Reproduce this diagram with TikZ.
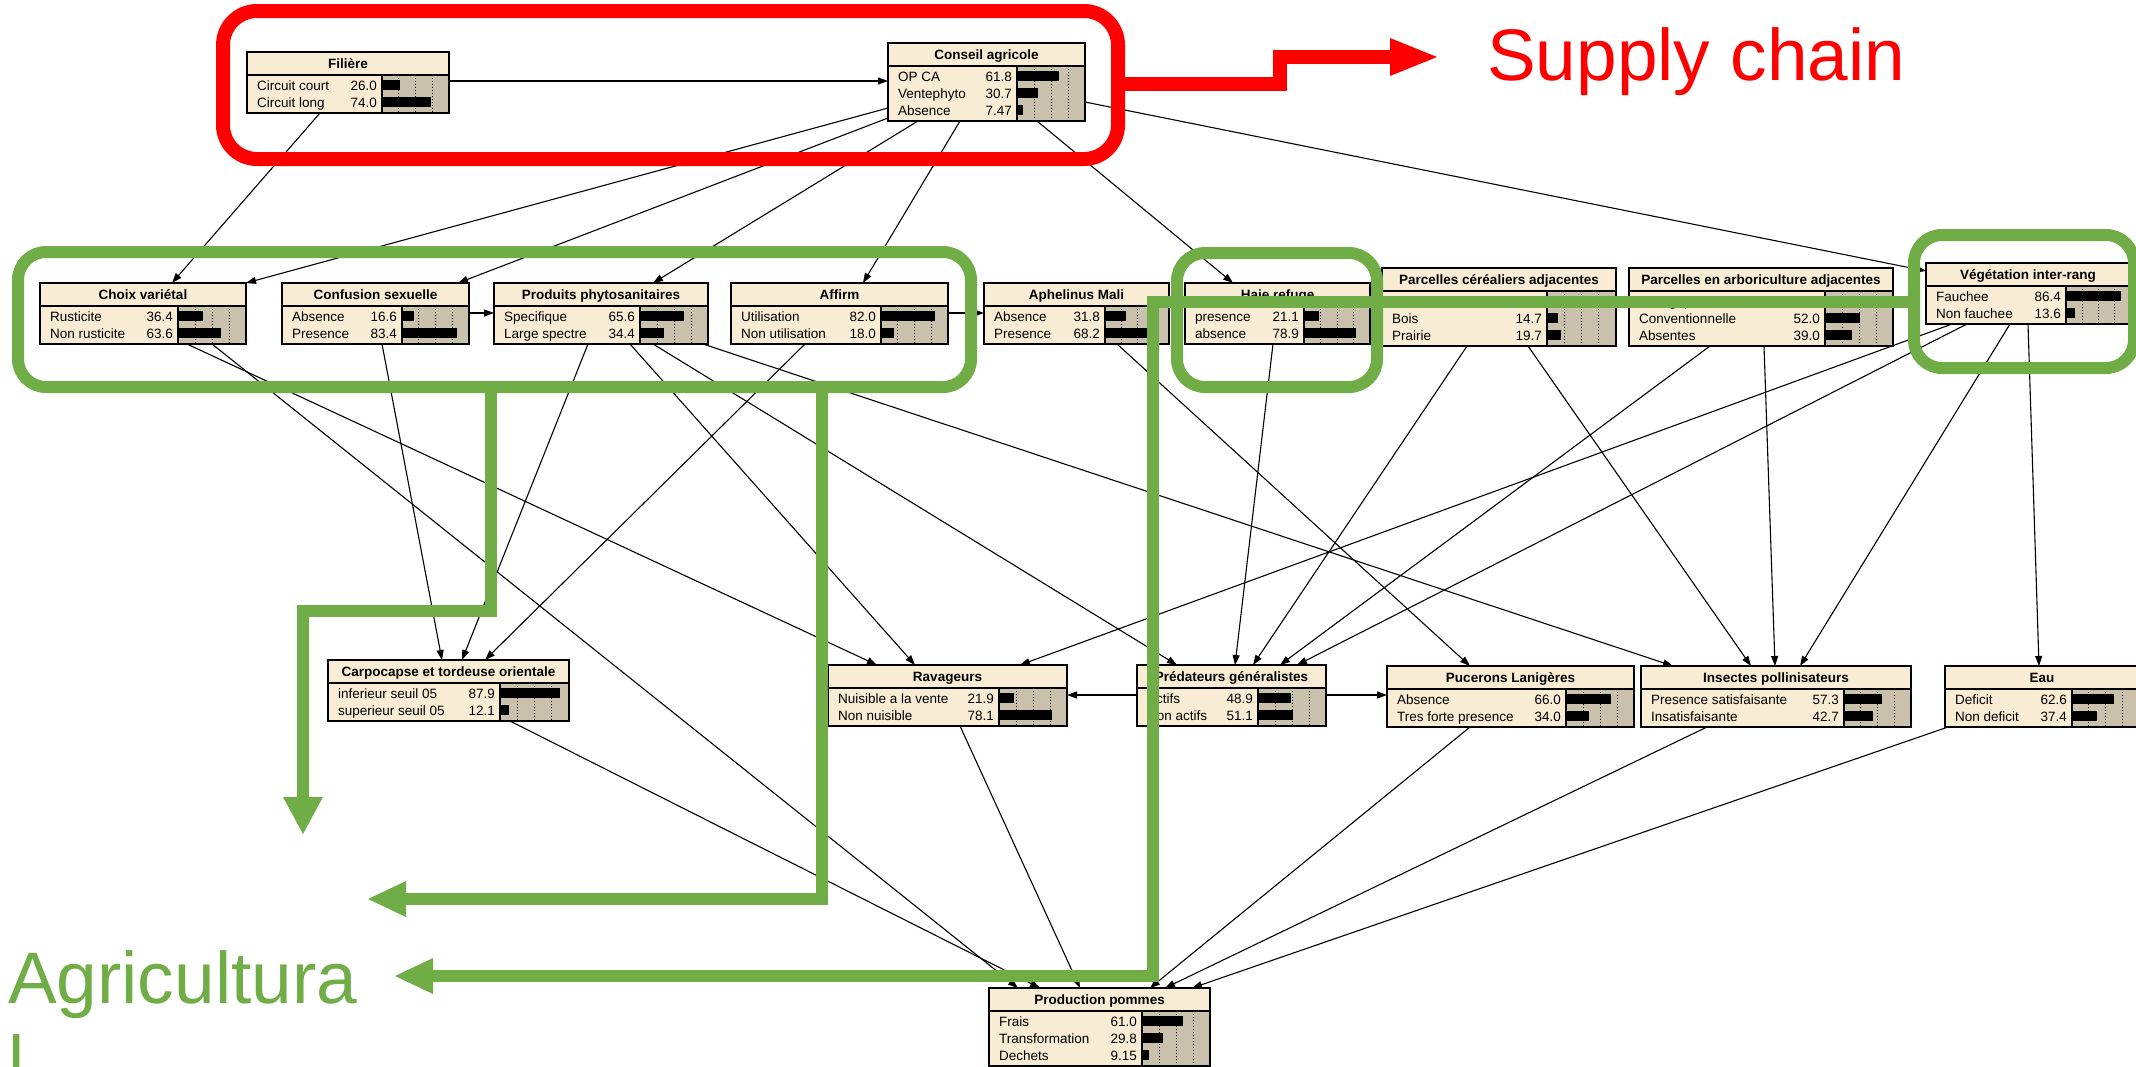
\documentclass[tikz,border=0pt]{standalone}
\usepackage{fontspec}
\setmainfont{Liberation Sans}
\usetikzlibrary{arrows.meta,calc}
\definecolor{cream}{RGB}{248,237,212}
\definecolor{bargray}{RGB}{201,193,171}
\definecolor{agrgreen}{RGB}{112,173,71}
\definecolor{scred}{RGB}{255,0,0}
\pgfdeclarelayer{bg}
\pgfsetlayers{bg,main}
\newcommand\nf{\fontsize{13.5}{15}\selectfont}
\newcommand\bnet[8]{%
  \pgfmathsetmacro\bnTb{#3+23}%
  \pgfmathsetmacro\bnBt{#3+23+17*#7+4}%
  \fill[cream] (#2,#3) rectangle (#4,\bnBt);
  \fill[bargray] (#5,\bnTb) rectangle (#4,\bnBt);
  \foreach \bnff in {0.25,0.5,0.75}{\draw[dotted,line width=1pt] ({#5+\bnff*(#4-#5)},\bnTb) -- ({#5+\bnff*(#4-#5)},\bnBt);}
  \foreach \bnl/\bnv [count=\bni] in {#8}{%
    \pgfmathsetmacro\bnyy{\bnTb+10+17*(\bni-1)}%
    \node[anchor=base west,inner sep=0,font=\nf] at (#2+10,\bnyy+5) {\bnl};
    \node[anchor=base east,inner sep=0,font=\nf] at (#5-5,\bnyy+5) {\bnv};
    \fill ({#5+1},\bnyy-5) rectangle ({#5+1+\bnv*(#4-#5-2)/100},\bnyy+5);
  }
  \draw[line width=1.3pt] (#2,\bnTb) -- (#4,\bnTb) (#5,\bnTb) -- (#5,\bnBt);
  \node[font={\nf\bfseries},inner sep=0,anchor=base] at ({(#2+#4)/2},#3+16.5) {#6};
  \node[draw,line width=1.3pt,inner sep=0,outer sep=0,minimum width={(#4-#2)*1pt},minimum height={(\bnBt-#3)*1pt}] (#1) at ({(#2+#4)/2},{(#3+\bnBt)/2}) {};
}
\tikzset{
  arr/.style={line width=1.1pt,-{Triangle[length=10pt,width=7pt]}},
  gline/.style={draw=agrgreen,line width=12pt,line join=miter},
  rline/.style={draw=scred,line width=14pt,line join=miter},
  bigtxt/.style={font=\fontsize{73}{84}\selectfont,inner sep=0}
}
\begin{document}
\begin{tikzpicture}[x=1pt,y=-1pt]
\useasboundingbox (0,0) rectangle (2136,1066);
\begin{pgfonlayer}{bg}
\fill[white] (0,0) rectangle (2136,1066);
\end{pgfonlayer}
% nodes
\bnet{fil}{247}{52}{449}{382}{Filière}{2}{Circuit court/26.0,Circuit long/74.0}
\bnet{cons}{888}{43}{1085}{1017}{Conseil agricole}{3}{OP CA/61.8,Ventephyto/30.7,Absence/7.47}
\bnet{choix}{40}{283}{246}{178}{Choix variétal}{2}{Rusticite/36.4,Non rusticite/63.6}
\bnet{conf}{282}{283}{469}{402}{Confusion sexuelle}{2}{Absence/16.6,Presence/83.4}
\bnet{prod}{494}{283}{708}{640}{Produits phytosanitaires}{2}{Specifique/65.6,Large spectre/34.4}
\bnet{aff}{731}{283}{948}{881}{Affirm}{2}{Utilisation/82.0,Non utilisation/18.0}
\bnet{aph}{984}{283}{1169}{1105}{Aphelinus Mali}{2}{Absence/31.8,Presence/68.2}
\bnet{haie}{1185}{283}{1370}{1304}{Haie refuge}{2}{presence/21.1,absence/78.9}
\bnet{cer}{1382}{268}{1616}{1547}{Parcelles céréaliers adjacentes}{3}{Grandes cultures/65.6,Bois/14.7,Prairie/19.7}
\bnet{arb}{1629}{268}{1893}{1825}{Parcelles en arboriculture adjacentes}{3}{Biologiques/9.00,Conventionnelle/52.0,Absentes/39.0}
\bnet{veg}{1926}{263}{2130}{2066}{Végétation inter-rang}{2}{Fauchee/86.4,Non fauchee/13.6}
\bnet{carp}{328}{660}{569}{500}{Carpocapse et tordeuse orientale}{2}{inferieur seuil 05/87.9,superieur seuil 05/12.1}
\bnet{rav}{828}{665}{1067}{999}{Ravageurs}{2}{Nuisible a la vente/21.9,Non nuisible/78.1}
\bnet{pred}{1137}{665}{1326}{1258}{Prédateurs généralistes}{2}{Actifs/48.9,Non actifs/51.1}
\bnet{puc}{1387}{666}{1634}{1566}{Pucerons Lanigères}{2}{Absence/66.0,Tres forte presence/34.0}
\bnet{ins}{1641}{666}{1911}{1844}{Insectes pollinisateurs}{2}{Presence satisfaisante/57.3,Insatisfaisante/42.7}
\bnet{eau}{1945}{666}{2139}{2072}{Eau}{2}{Deficit/62.6,Non deficit/37.4}
\bnet{pom}{989}{988}{1210}{1142}{Production pommes}{3}{Frais/61.0,Transformation/29.8,Dechets/9.15}
% connectors
\begin{pgfonlayer}{bg}
\draw[arr] (fil.east |- 0,81) -- (cons.west |- 0,81);
\draw[arr] (320,0 |- fil.south) -- (172,0 |- choix.north);
\draw[arr] (cons.west |- 0,108) -- (choix.north east);
\draw[arr] (cons.west |- 0,118) -- (458,0 |- conf.north);
\draw[arr] (918,0 |- cons.south) -- (653,0 |- prod.north);
\draw[arr] (960,0 |- cons.south) -- (863,0 |- aff.north);
\draw[arr] (1037,0 |- cons.south) -- (1233,0 |- haie.north);
\draw[arr] (cons.east |- 0,102) -- (veg.west |- 0,271);
\draw[arr] (conf.east |- 0,313) -- (prod.west |- 0,313);
\draw[arr] (aff.east |- 0,313) -- (aph.west |- 0,313);
\draw[arr] (187,0 |- choix.south) -- (877,0 |- rav.north);
\draw[arr] (212,0 |- choix.south) -- (1018,0 |- pom.north);
\draw[arr] (382,0 |- conf.south) -- (442,0 |- carp.north);
\draw[arr] (588,0 |- prod.south) -- (462,0 |- carp.north);
\draw[arr] (630,0 |- prod.south) -- (915,0 |- rav.north);
\draw[arr] (653,0 |- prod.south) -- (1177,0 |- pred.north);
\draw[arr] (703,0 |- prod.south) -- (1673,0 |- ins.north);
\draw[arr] (805,0 |- aff.south) -- (485,0 |- carp.north);
\draw[arr] (1117,0 |- aph.south) -- (1470,0 |- puc.north);
\draw[arr] (1273,0 |- haie.south) -- (1235,0 |- pred.north);
\draw[arr] (1467,0 |- cer.south) -- (1253,0 |- pred.north);
\draw[arr] (1528,0 |- cer.south) -- (1751,0 |- ins.north);
\draw[arr] (1710,0 |- arb.south) -- (1280,0 |- pred.north);
\draw[arr] (1764,0 |- arb.south) -- (1775,0 |- ins.north);
\draw[arr] (1952,0 |- veg.south) -- (1020,0 |- rav.north);
\draw[arr] (1967,0 |- veg.south) -- (1297,0 |- pred.north);
\draw[arr] (2010,0 |- veg.south) -- (1800,0 |- ins.north);
\draw[arr] (2028,0 |- veg.south) -- (2039,0 |- eau.north);
\draw[arr] (pred.west |- 0,695) -- (rav.east |- 0,695);
\draw[arr] (pred.east |- 0,695) -- (puc.west |- 0,695);
\draw[arr] (510,0 |- carp.south) -- (1040,0 |- pom.north);
\draw[arr] (960,0 |- rav.south) -- (1080,0 |- pom.north);
\draw[arr] (1470,0 |- puc.south) -- (1150,0 |- pom.north);
\draw[arr] (1707,0 |- ins.south) -- (1165,0 |- pom.north);
\draw[arr] (1948,0 |- eau.south) -- (1192,0 |- pom.north);
\end{pgfonlayer}
% overlays: supply chain
\draw[rline,rounded corners=34pt] (223,11) rectangle (1118,159);
\draw[rline] (1118,84) -- (1280,84) -- (1280,57) -- (1392,57);
\fill[scred] (1390,38) -- (1437,57) -- (1390,76) -- cycle;
\node[bigtxt,text=scred,anchor=base west] (sc) at (1487,80) {Supply chain};
% overlays: agricultural
\draw[gline,rounded corners=28pt] (18,252) rectangle (971,387);
\draw[gline,rounded corners=28pt] (1177,253) rectangle (1377,387);
\draw[gline,rounded corners=28pt] (1914,235) rectangle (2134,368);
\draw[gline] (1914,302) -- (1153,302) -- (1153,976) -- (431,976);
\fill[agrgreen] (433,958) -- (395,976) -- (433,994) -- cycle;
\draw[gline] (822,387) -- (822,899) -- (404,899);
\fill[agrgreen] (406,881) -- (368,899) -- (406,917) -- cycle;
\draw[gline] (491,387) -- (491,611) -- (303,611) -- (303,799);
\fill[agrgreen] (283,797) -- (303,834) -- (323,797) -- cycle;
\node[bigtxt,text=agrgreen,anchor=base west] (agr1) at (8,1003) {Agricultura};
\node[bigtxt,text=agrgreen,anchor=base west] (agr2) at (8,1087) {l};
\end{tikzpicture}
\end{document}
